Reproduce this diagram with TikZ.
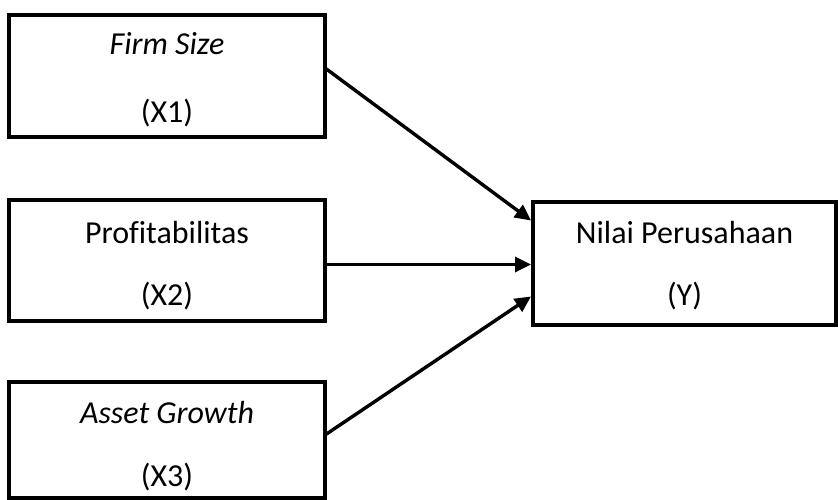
\documentclass[tikz,border=0pt]{standalone}
\usepackage{fontspec}
\setmainfont[Ligatures={NoCommon}]{Carlito}
\usetikzlibrary{arrows.meta}
\begin{document}
\begin{tikzpicture}[x=1pt,y=-1pt,
  box/.style={draw=black, line width=4pt, rectangle, inner sep=0pt, outer sep=0pt},
  lbl/.style={anchor=base, inner sep=0pt, font=\fontsize{32}{38}\selectfont},
  conn/.style={line width=3.4pt, -{Triangle[length=16pt,width=15pt]}}]
\useasboundingbox (0,0) rectangle (838,500);
\node[box, minimum width=316pt, minimum height=122pt] (b1) at (167,76) {};
\node[box, minimum width=316pt, minimum height=121pt] (b2) at (167,260.5) {};
\node[box, minimum width=316pt, minimum height=116pt] (b3) at (167,440) {};
\node[box, minimum width=303pt, minimum height=123pt] (by) at (684.5,263.5) {};
\node[lbl] (t1a) at (167,55) {\itshape Firm Size};
\node[lbl] (t1b) at (167,123) {(X1)};
\node[lbl] (t2a) at (167,243) {Profitabilitas};
\node[lbl] (t2b) at (167,305) {(X2)};
\node[lbl] (t3a) at (167,423) {\itshape Asset Growth};
\node[lbl] (t3b) at (167,486) {(X3)};
\node[lbl] (tya) at (684.5,243) {Nilai Perusahaan};
\node[lbl] (tyb) at (684.5,305) {(Y)};
\draw[conn] ([yshift=8pt]b1.east) -- ([yshift=43pt,xshift=-2pt]by.west);
\draw[conn] ([yshift=-4pt]b2.east) -- ([yshift=-1pt,xshift=-2pt]by.west);
\draw[conn] ([yshift=5pt]b3.east) -- ([yshift=-33pt,xshift=-2pt]by.west);
\end{tikzpicture}
\end{document}
